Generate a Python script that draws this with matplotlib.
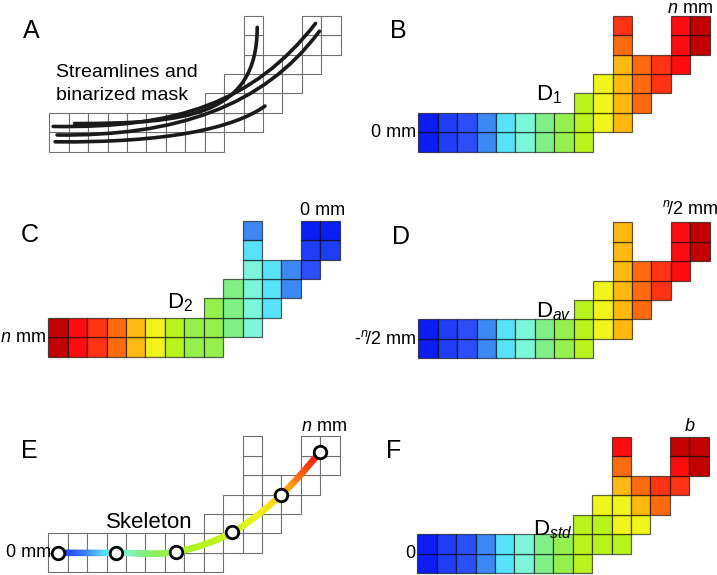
import numpy as np
import matplotlib
matplotlib.use("Agg")
import matplotlib.pyplot as plt
from matplotlib.colors import LinearSegmentedColormap
from matplotlib.path import Path
from matplotlib.patches import PathPatch
from matplotlib.collections import LineCollection
from matplotlib.bezier import BezierSegment

plt.rcParams['font.family'] = ['Liberation Sans', 'DejaVu Sans']
plt.rcParams['mathtext.fontset'] = 'custom'
plt.rcParams['mathtext.rm'] = 'Liberation Sans'
plt.rcParams['mathtext.it'] = 'Liberation Sans:italic'

# colour steps used for the cells (blue -> dark red)
palette = ['#0b1ff5', '#1f3df5', '#2c4ef8', '#3c88f5', '#57e2fa', '#7cf5da',
           '#80f086', '#95f04e', '#b8f31e', '#eef41c', '#fdb811', '#fd6a10',
           '#fd3313', '#fd0d0d', '#c20202']

# binarized mask: columns occupied in each row (row 0 = bottom)
mask_cols = [list(range(0, 9)), list(range(0, 11)), [8, 9, 10, 11],
             [9, 10, 11, 12], [10, 11, 12, 13], [10, 13, 14], [10, 13, 14]]

# colour step of each cell, same layout as mask_cols
d1 = [[0, 1, 2, 3, 4, 5, 6, 7, 8], [0, 1, 2, 3, 4, 5, 6, 7, 8, 9, 10],
      [8, 9, 10, 11], [9, 10, 11, 12], [10, 11, 12, 13], [11, 13, 14], [12, 13, 14]]
d2 = [[14, 13, 12, 11, 10, 9, 8, 7, 7], [14, 13, 12, 11, 10, 9, 8, 7, 7, 6, 5],
      [7, 6, 5, 4], [6, 5, 4, 3], [5, 4, 3, 2], [4, 1, 1], [3, 0, 0]]
dav = [[0, 1, 2, 3, 4, 5, 6, 7, 8], [0, 1, 2, 3, 4, 5, 6, 7, 8, 9, 10],
       [8, 9, 10, 11], [9, 10, 11, 12], [10, 11, 12, 13], [10, 13, 14], [10, 13, 14]]
dstd = [[0, 1, 2, 3, 4, 5, 6, 7, 8], [0, 1, 2, 3, 4, 5, 6, 7, 8, 8, 8],
        [8, 8, 9, 9], [9, 9, 10, 11], [10, 11, 12, 12], [11, 13, 14], [13, 14, 14]]

# streamlines in A: cubic bezier control points (cell units)
streamlines = [
    [(1.3, 1.45), (7.0, 1.45), (10.7, 1.8), (10.7, 6.4)],
    [(0.2, 1.3), (6.5, 1.2), (10.5, 2.5), (13.7, 6.6)],
    [(0.4, 0.86), (6.5, 0.8), (11.0, 2.3), (13.9, 6.2)],
    [(0.3, 0.51), (6.0, 0.45), (9.5, 1.2), (11.1, 2.35)],
]

# skeleton in E: node points and colour step at each node
skel_x = [0.5, 3.5, 6.55, 9.45, 12.0, 14.0]
skel_y = [1.0, 1.0, 1.05, 2.05, 4.0, 6.2]
skel_val = [0.8, 4.6, 7.6, 8.3, 9.6, 13.0]

cell = 19.43
W, H = 717, 575
fig = plt.figure(figsize=(W / 100, H / 100), dpi=100)
cmap = LinearSegmentedColormap.from_list('steps', palette)


def panel(x0, ybot):
    ax = fig.add_axes([(x0 - 2.5 * cell) / W, (H - ybot - 0.6 * cell) / H,
                       18.5 * cell / W, 8.6 * cell / H])
    ax.set_xlim(-2.5, 16)
    ax.set_ylim(-0.6, 8)
    ax.axis('off')
    return ax


def draw_cells(ax, vals):
    for r, cols in enumerate(mask_cols):
        if vals is None:
            ax.bar(cols, 1, bottom=r, width=1, align='edge', color='white',
                   edgecolor='#707070', linewidth=0.8)
        else:
            ax.bar(cols, 1, bottom=r, width=1, align='edge',
                   color=[palette[v] for v in vals[r]],
                   edgecolor=(0, 0, 0, 0.6), linewidth=0.9)


lab = dict(fontsize=13)
dlab = dict(fontsize=16, va='baseline', ha='left')
half = r'$^{n}\!/2$'

# A
ax = panel(49.3, 151.7)
draw_cells(ax, None)
for pts in streamlines:
    p = Path(pts, [Path.MOVETO, Path.CURVE4, Path.CURVE4, Path.CURVE4])
    ax.add_patch(PathPatch(p, fill=False, lw=2.6, ec='#1a1a1a', capstyle='round'))
ax.text(0.35, 3.83, 'Streamlines and', fontsize=14, va='baseline')
ax.text(0.35, 2.66, 'binarized mask', fontsize=14, va='baseline')

# B
ax = panel(418.3, 151.7)
draw_cells(ax, d1)
ax.text(-0.1, 1.0, '0 mm', ha='right', va='center', **lab)
ax.text(6.04, 2.66, r'D$_1$', **dlab)
ax.text(14.0, 7.35, r'$n$ mm', ha='center', va='center', **lab)

# C
ax = panel(48.3, 356.7)
draw_cells(ax, d2)
ax.text(-0.1, 1.0, r'$n$ mm', ha='right', va='center', **lab)
ax.text(6.09, 2.49, r'D$_2$', **dlab)
ax.text(14.1, 7.5, '0 mm', ha='center', va='center', **lab)

# D
ax = panel(418.3, 358.3)
draw_cells(ax, dav)
ax.text(-0.1, 1.0, '-' + half + ' mm', ha='right', va='center', **lab)
ax.text(6.04, 2.12, r'D$_{av}$', **dlab)
ax.text(14.0, 7.7, half + ' mm', ha='center', va='center', **lab)

# E
ax = panel(48.3, 572.3)
draw_cells(ax, None)
P = np.column_stack([skel_x, skel_y])
n = len(P)
segs, cols = [], []
ts = np.linspace(0, 1, 40)
for i in range(n - 1):
    pm = P[max(i - 1, 0)]
    pp = P[min(i + 2, n - 1)]
    c1 = P[i] + (P[i + 1] - pm) / 6
    c2 = P[i + 1] - (pp - P[i]) / 6
    pts = BezierSegment(np.array([P[i], c1, c2, P[i + 1]])).point_at_t(ts)
    segs += [pts[k:k + 2] for k in range(len(pts) - 1)]
    v = np.interp(ts[:-1], [0, 1], [skel_val[i], skel_val[i + 1]])
    cols += [cmap(x / 14) for x in v]
ax.add_collection(LineCollection(segs, colors=cols, linewidths=4.6, capstyle='round'))
ax.plot(skel_x, skel_y, 'o', ms=9, mfc='white', mec='black', mew=2.0, zorder=5)
ax.text(0.15, 1.0, '0 mm', ha='right', va='center', **lab)
ax.text(2.97, 2.3, 'Skeleton', fontsize=16, va='baseline')
ax.text(14.2, 7.5, r'$n$ mm', ha='center', va='center', **lab)

# F
ax = panel(417.3, 573)
draw_cells(ax, dstd)
ax.text(-0.1, 1.0, '0', ha='right', va='center', **lab)
ax.text(5.94, 1.96, r'D$_{std}$', **dlab)
ax.text(14.0, 7.55, r'$b$', ha='center', va='center', **lab)

# panel letters
for letter, x, y in [('A', 31.5, 30.5), ('B', 398.5, 30.5), ('C', 30, 235.5),
                     ('D', 401, 236.5), ('E', 29.5, 451.5), ('F', 393.5, 451)]:
    fig.text(x / W, 1 - y / H, letter, fontsize=18, ha='center', va='center')

fig.savefig('out.png', dpi=100)
